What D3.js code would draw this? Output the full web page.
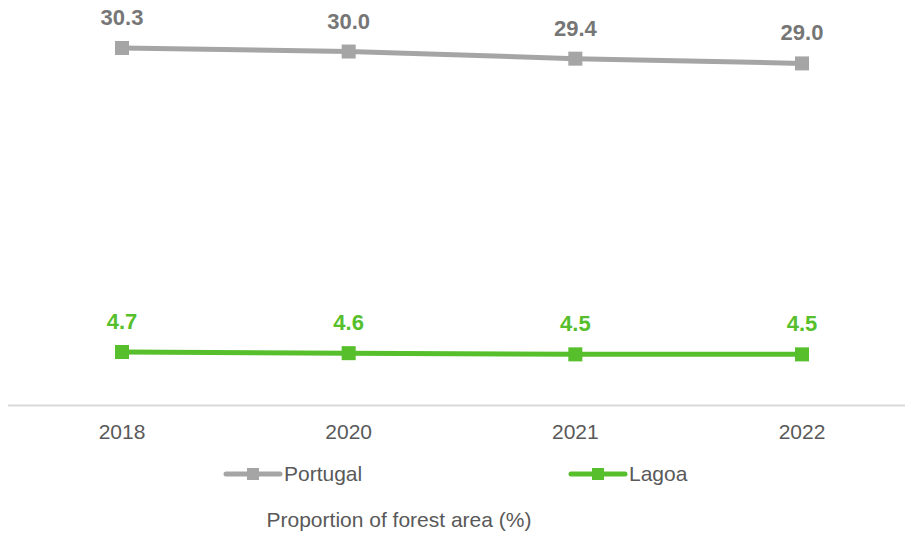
<!DOCTYPE html>
<html>
<head>
<meta charset="utf-8">
<script src="https://cdn.jsdelivr.net/npm/d3@7"></script>
<style>
  body { margin: 0; background: #fff; }
  text { font-family: "Liberation Sans", Arial, sans-serif; }
</style>
</head>
<body>
<div id="chart"></div>
<script>
var years = ["2018", "2020", "2021", "2022"];
var portugal = [30.3, 30.0, 29.4, 29.0];
var lagoa = [4.7, 4.6, 4.5, 4.5];
var seriesNames = ["Portugal", "Lagoa"];
var title = "Proportion of forest area (%)";

var width = 905, height = 535;

var svg = d3.select("#chart")
  .append("svg")
  .attr("width", width)
  .attr("height", height)

var x = d3.scalePoint()
  .domain(years)
  .range([122, 802])

var y = d3.scaleLinear()
  .domain([0, 34.34])
  .range([407.8, 0])

// baseline
svg.append("line")
  .attr("x1", 8).attr("x2", 905)
  .attr("y1", 405.5).attr("y2", 405.5)
  .attr("stroke", "#d9d9d9")
  .attr("stroke-width", 2)

// year labels
svg.selectAll(".year")
  .data(years)
  .enter()
  .append("text")
  .attr("x", function (d) { return x(d) })
  .attr("y", 439)
  .attr("text-anchor", "middle")
  .attr("font-size", "21px")
  .attr("fill", "#595959")
  .text(function (d) { return d })

var series = [
  { name: seriesNames[0], values: portugal, color: "#a5a5a5", label: "#767676" },
  { name: seriesNames[1], values: lagoa, color: "#56bf2b", label: "#56bf2b" }
]

var line = d3.line()
  .x(function (d, i) { return x(years[i]) })
  .y(function (d) { return y(d) })

series.forEach(function (s) {
  svg.append("path")
    .datum(s.values)
    .attr("d", line)
    .attr("fill", "none")
    .attr("stroke", s.color)
    .attr("stroke-width", 5)
    .attr("stroke-linecap", "round")

  svg.selectAll(null)
    .data(s.values)
    .enter()
    .append("rect")
    .attr("x", function (d, i) { return x(years[i]) - 7 })
    .attr("y", function (d) { return y(d) - 7 })
    .attr("width", 14)
    .attr("height", 14)
    .attr("fill", s.color)

  svg.selectAll(null)
    .data(s.values)
    .enter()
    .append("text")
    .attr("x", function (d, i) { return x(years[i]) })
    .attr("y", function (d) { return y(d) - 23 })
    .attr("text-anchor", "middle")
    .attr("font-size", "22px")
    .attr("font-weight", "bold")
    .attr("fill", s.label)
    .text(function (d) { return d.toFixed(1) })
})

// legend
var legendX = [226, 571]
series.forEach(function (s, i) {
  var g = svg.append("g").attr("transform", "translate(" + legendX[i] + ",474)")
  g.append("line")
    .attr("x1", 0).attr("x2", 54)
    .attr("y1", 0).attr("y2", 0)
    .attr("stroke", s.color)
    .attr("stroke-width", 5)
    .attr("stroke-linecap", "round")
  g.append("rect")
    .attr("x", 21).attr("y", -6)
    .attr("width", 12).attr("height", 12)
    .attr("fill", s.color)
  g.append("text")
    .attr("x", 58)
    .attr("y", 7)
    .attr("font-size", "21px")
    .attr("fill", "#595959")
    .text(s.name)
})

svg.append("text")
  .attr("x", 399)
  .attr("y", 527)
  .attr("text-anchor", "middle")
  .attr("font-size", "21px")
  .attr("fill", "#595959")
  .text(title)
</script>
</body>
</html>
